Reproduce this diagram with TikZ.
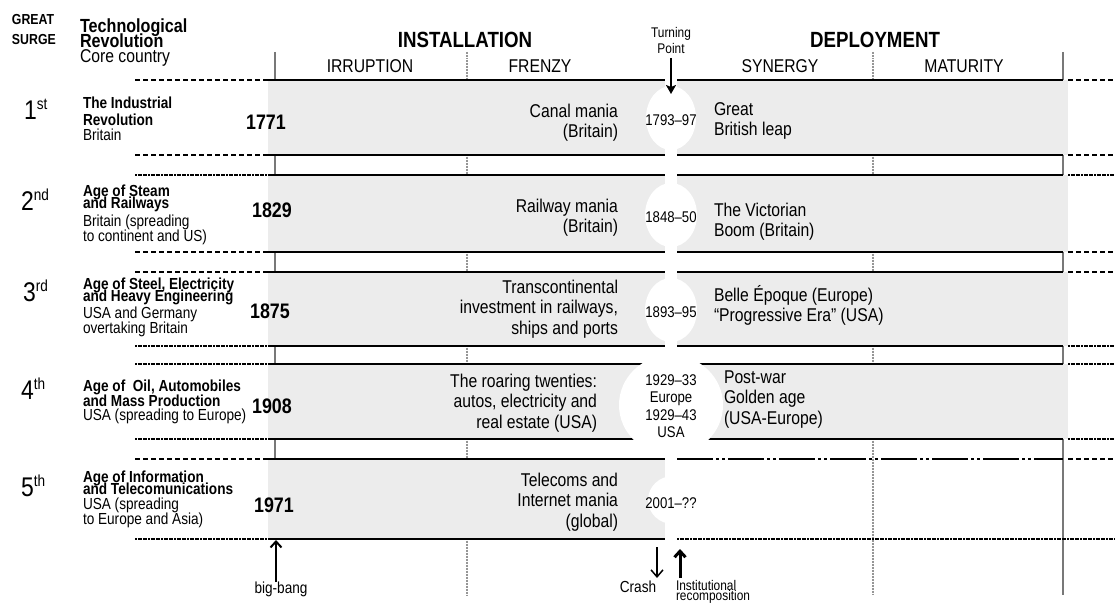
\documentclass[tikz,border=0pt]{standalone}
\usepackage{fontspec}
\setmainfont{Liberation Sans}[FakeStretch=0.85]
\usetikzlibrary{arrows.meta}
\definecolor{shadebg}{RGB}{236,236,236}
\definecolor{divgray}{RGB}{120,120,120}
\definecolor{dotgray}{RGB}{150,150,150}
\newcommand\fsz[2]{\fontsize{#1}{#2}\selectfont\lineskiplimit=-100pt\relax}
\lineskiplimit=-100pt
\begin{document}
\begin{tikzpicture}[x=1pt,y=-1pt,
  txt/.style={inner sep=0pt, outer sep=0pt},
  body/.style={txt, font=\fsz{18.5}{20.5}},
  ttl/.style={txt, align=left, anchor=base west},
  ctry/.style={txt, align=left, anchor=base west, font=\fsz{16}{15}},
  yearlab/.style={txt, anchor=base, font=\bfseries\fsz{21}{21}},
  datelab/.style={txt, anchor=base, align=center, font=\fsz{15.5}{17.5}},
  ordlab/.style={txt, anchor=base west, font=\fsz{27}{27}},
  hline/.style={line width=1.8pt},
  dashl/.style={line width=1.5pt, dash pattern=on 5pt off 3pt},
  dense/.style={line width=2pt, dash pattern=on 2pt off 0.6pt},
  divs/.style={draw=divgray, line width=1.5pt},
  divd/.style={draw=dotgray, line width=2.5pt, dash pattern=on 1pt off 0.5pt},
  blob/.style={fill=white}
]
\useasboundingbox (0,0) rectangle (1115,602);

% shaded bands
\foreach \a/\b in {80/155,175/252,272/346,364/439}
  \fill[shadebg] (268,\a) rectangle (1068,\b);
\fill[shadebg] (268,459) rectangle (665,539);

% vertical phase dividers
\draw[divs] (275,52) -- (275,80);
\draw[divd] (467,52) -- (467,80);
\draw[divd] (873,52) -- (873,80);
\draw[divs] (1063,52) -- (1063,80);
\foreach \a/\b in {155/175,252/272,346/364}{
  \draw[divs] (275,\a) -- (275,\b);
  \draw[divd] (467,\a) -- (467,\b);
  \draw[divd] (873,\a) -- (873,\b);
  \draw[divs] (1063,\a) -- (1063,\b);
}
\draw[divs] (275,439) -- (275,459);
\draw[divd] (467,439) -- (467,459);
\draw[divd] (467,539) -- (467,595);
\draw[divd] (873,439) -- (873,595);
\draw[divs] (1063,439) -- (1063,595);

% horizontal band lines
\foreach \y in {80,155,175,252,272,346,364,439}
  \draw[hline] (268,\y) -- (1063,\y);
\draw[hline] (268,459) -- (665,459);
\draw[hline] (268,539) -- (665,539);
\draw[line width=1.8pt, dash pattern=on 36pt off 3pt on 3pt off 3pt on 3pt off 3pt] (677,459) -- (1063,459);
\draw[dense] (677,539) -- (1115,539);

% side lines
\foreach \y in {80,155,252,272,459}{
  \draw[dashl] (135,\y) -- (268,\y);
  \draw[dashl] (1068,\y) -- (1115,\y);
}
\foreach \y in {175,346,364,439}{
  \draw[dense] (135,\y) -- (268,\y);
  \draw[dense] (1068,\y) -- (1115,\y);
}
\draw[dense] (135,539) -- (268,539);

% turning point strip and blobs
\fill[white] (665,78) rectangle (677,541);
\fill[blob] (671,118) ellipse [x radius=25pt, y radius=32pt];
\fill[blob] (671,215) ellipse [x radius=26pt, y radius=32pt];
\fill[blob] (671,310) ellipse [x radius=26pt, y radius=32pt];
\fill[blob] (671,405) ellipse [x radius=52pt, y radius=50pt];
\fill[blob] (673,500) ellipse [x radius=25pt, y radius=24pt];

% header
\node[txt, anchor=base west, align=left, font=\bfseries\fsz{14.5}{20}] (gs) at (12,45) {GREAT\\SURGE};
\node[txt, anchor=base west, align=left, font=\bfseries\fsz{19}{15}] (tr) at (80,48) {Technological\\Revolution};
\node[txt, anchor=base west, font=\fsz{18.5}{18.5}] (cc) at (80,63) {Core country};
\node[txt, anchor=base, font=\bfseries\fsz{22}{22}] (inst) at (465,48) {INSTALLATION};
\node[txt, anchor=base, font=\bfseries\fsz{22}{22}] (depl) at (875,48) {DEPLOYMENT};
\node[txt, anchor=base, font=\fsz{18.5}{18.5}] (irr) at (370,72) {IRRUPTION};
\node[txt, anchor=base, font=\fsz{18.5}{18.5}] (fre) at (540,72) {FRENZY};
\node[txt, anchor=base, font=\fsz{18.5}{18.5}] (syn) at (780,72) {SYNERGY};
\node[txt, anchor=base, font=\fsz{18.5}{18.5}] (mat) at (964,72) {MATURITY};
\node[txt, anchor=base, align=center, font=\fsz{14}{17}] (tp) at (671,54) {Turning\\Point};
\coordinate (tpA) at (671,58);
\coordinate (tpB) at (671,94);
\draw[line width=2.8pt, -{Stealth[length=9pt, width=10pt, inset=2pt]}] (tpA) -- (tpB);

% ordinals
\node[ordlab] (o1) at (24,119) {1\raisebox{10pt}{\fsz{16}{16}st}};
\node[ordlab] (o2) at (21,210) {2\raisebox{10pt}{\fsz{16}{16}nd}};
\node[ordlab] (o3) at (23,301) {3\raisebox{10pt}{\fsz{16}{16}rd}};
\node[ordlab] (o4) at (21,399) {4\raisebox{10pt}{\fsz{16}{16}th}};
\node[ordlab] (o5) at (21,496) {5\raisebox{10pt}{\fsz{16}{16}th}};

% revolution titles
\node[ttl, font=\bfseries\fsz{16}{17}] (t1) at (83,125) {The Industrial\\Revolution};
\node[ttl, font=\bfseries\fsz{16}{12}] (t2) at (83,208) {Age of Steam\\and Railways};
\node[ttl, font=\bfseries\fsz{16}{12}] (t3) at (83,301) {Age of Steel, Electricity\\and Heavy Engineering};
\node[ttl, font=\bfseries\fsz{16}{15}] (t4) at (83,406) {Age of\ \ Oil, Automobiles\\and Mass Production};
\node[ttl, font=\bfseries\fsz{16}{12}] (t5) at (83,494) {Age of Information\\and Telecomunications};
\node[ctry] (c1) at (83,140) {Britain};
\node[ctry] (c2) at (83,241) {Britain (spreading\\to continent and US)};
\node[ctry] (c3) at (83,333) {USA and Germany\\overtaking Britain};
\node[ctry] (c4) at (83,420) {USA (spreading to Europe)};
\node[ctry] (c5) at (83,524) {USA (spreading\\to Europe and Asia)};

% big-bang years
\node[yearlab] (y1) at (266,129) {1771};
\node[yearlab] (y2) at (272,217) {1829};
\node[yearlab] (y3) at (270,318) {1875};
\node[yearlab] (y4) at (272,413) {1908};
\node[yearlab] (y5) at (274,512) {1971};

% frenzy texts
\node[body, anchor=base east, align=right] (m1) at (618,137.5) {Canal mania\\(Britain)};
\node[body, anchor=base east, align=right] (m2) at (618,232.5) {Railway mania\\(Britain)};
\node[body, anchor=base east, align=right] (m3) at (618,334) {Transcontinental\\investment in railways,\\ships and ports};
\node[body, anchor=base east, align=right] (m4) at (597,428) {The roaring twenties:\\autos, electricity and\\real estate (USA)};
\node[body, anchor=base east, align=right] (m5) at (618,527) {Telecoms and\\Internet mania\\(global)};

% turning point dates
\node[datelab] (d1) at (671,125) {1793–97};
\node[datelab] (d2) at (671,222) {1848–50};
\node[datelab] (d3) at (671,317) {1893–95};
\node[datelab] (d4) at (671,437.5) {1929–33\\Europe\\1929–43\\USA};
\node[datelab] (d5) at (671,508) {2001–??};

% deployment texts
\node[body, anchor=base west, align=left] (s1) at (714,135.5) {Great\\British leap};
\node[body, anchor=base west, align=left] (s2) at (714,236.5) {The Victorian\\Boom (Britain)};
\node[body, anchor=base west, align=left] (s3) at (714,321.5) {Belle Époque (Europe)\\“Progressive Era” (USA)};
\node[body, anchor=base west, align=left] (s4) at (724,424) {Post-war\\Golden age\\(USA-Europe)};

% bottom arrows and labels
\coordinate (bbtail) at (276,582);
\coordinate (bbtip) at (276,540);
\draw[line width=2pt, -{Straight Barb[length=6pt, width=11pt]}] (bbtail) -- (bbtip);
\node[txt, anchor=base, font=\fsz{16}{16}] (bb) at (281,593) {big-bang};
\coordinate (crA) at (657,547);
\coordinate (crB) at (657,578);
\draw[line width=1.5pt, -{Straight Barb[length=7pt, width=12pt]}] (crA) -- (crB);
\node[txt, anchor=base, font=\fsz{16}{16}] (crash) at (638,592) {Crash};
\coordinate (irA) at (680,578);
\coordinate (irB) at (680,549);
\draw[line width=3pt, -{Straight Barb[length=6pt, width=11pt]}] (irA) -- (irB);
\node[txt, anchor=base west, align=left, font=\fsz{14}{10}] (ir) at (676,600) {Institutional\\recomposition};
\end{tikzpicture}
\end{document}
